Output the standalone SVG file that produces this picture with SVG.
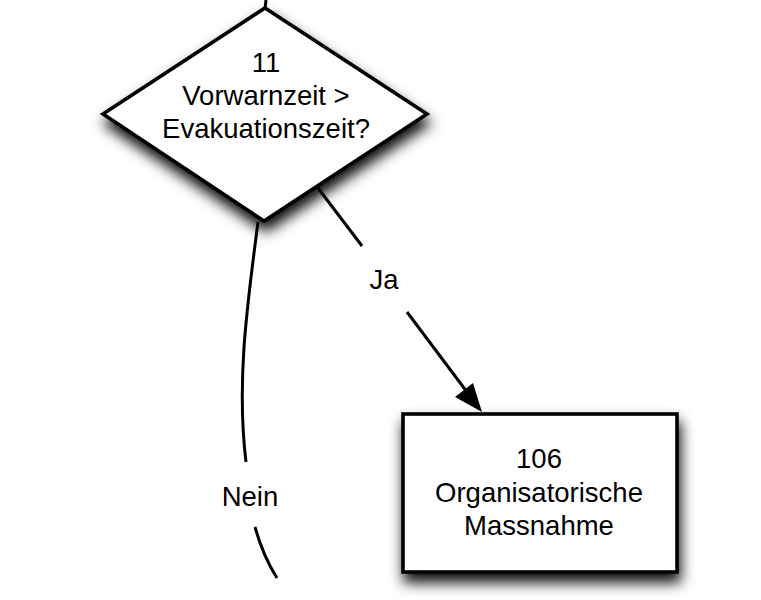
<svg xmlns="http://www.w3.org/2000/svg" width="761" height="600" viewBox="0 0 761 600">
<style>
text{font-family:"Liberation Sans",Arial,sans-serif;font-size:27.5px;fill:#000;text-anchor:middle}
.shape{fill:#fff;stroke:#000;stroke-width:3.6;stroke-linejoin:miter}
.conn{fill:none;stroke:#000;stroke-width:3}
</style>
<defs>
<filter id="sh" x="-30%" y="-30%" width="160%" height="170%">
<feDropShadow dx="2" dy="9" stdDeviation="7" flood-color="#000" flood-opacity="0.95"/>
</filter>
</defs>
<rect width="761" height="600" fill="#fff"/>
<g id="connectors">
<path class="conn" d="M266,0 L265,9"/>
<path class="conn" d="M318,188 L362,246"/>
<path class="conn" d="M407,312 L470,396"/>
<polygon points="482,412 455,397 473,383" fill="#000"/>
<text x="384" y="289">Ja</text>
<path class="conn" d="M258,222 C248,300 236,380 246,462"/>
<path class="conn" d="M255,527 Q263,556 277,578"/>
<text x="250" y="506">Nein</text>
</g>
<g id="node11">
<polygon class="shape" filter="url(#sh)" points="265,8 427,114 264,221 103,114"/>
<text x="266" y="72">11</text>
<text x="266" y="105">Vorwarnzeit &gt;</text>
<text x="266" y="138">Evakuationszeit?</text>
</g>
<g id="node106">
<rect class="shape" filter="url(#sh)" x="403" y="414" width="274" height="158"/>
<text x="539" y="468">106</text>
<text x="539" y="502">Organisatorische</text>
<text x="539" y="535">Massnahme</text>
</g>
</svg>
